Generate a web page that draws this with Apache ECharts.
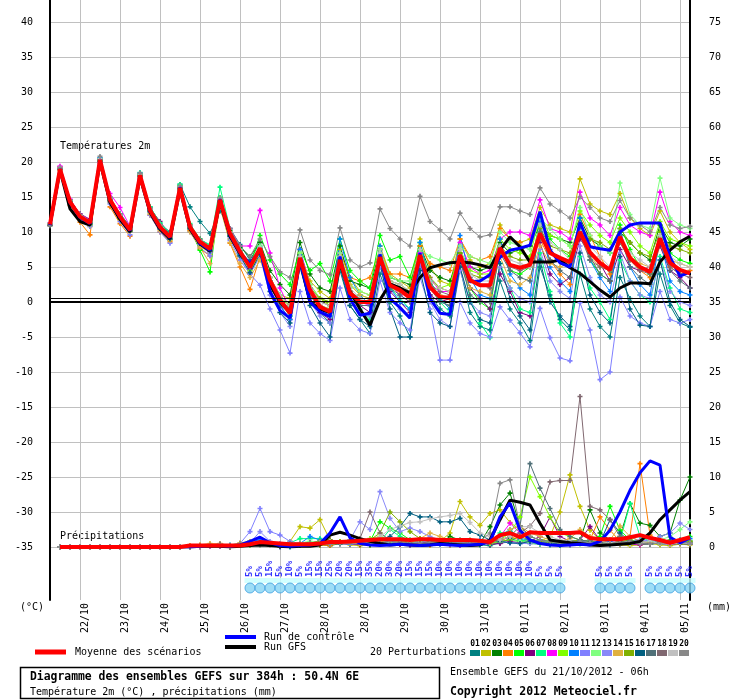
<!DOCTYPE html>
<html>
<head>
<meta charset="utf-8">
<title>Diagramme des ensembles GEFS</title>
<script src="https://cdn.jsdelivr.net/npm/echarts@6.0.0/dist/echarts.min.js"></script>
<style>
  html, body { margin: 0; padding: 0; background: #fff; }
  #main { width: 740px; height: 700px; }
</style>
</head>
<body>
<div id="main"></div>
<script>
const FONT = '"DejaVu Sans Mono", "Liberation Mono", monospace'

// one label per day, 00h local time (28/10 twice: end of summer time)
const dayLabels = ['22/10', '23/10', '24/10', '25/10', '26/10', '27/10', '28/10', '28/10',
  '29/10', '30/10', '31/10', '01/11', '02/11', '03/11', '04/11', '05/11']

const memberColors = ['#008080', '#c0c000', '#008000', '#ff8000', '#00ff00', '#800080', '#00ff80',
  '#ff00ff', '#80ff00', '#0080ff', '#8080ff', '#80ff80', '#8888f8', '#e0b040', '#80b000',
  '#005f80', '#507078', '#806870', '#c0c0c0', '#888888']

// temperature 2m (°C), one value every 6h from 21/10 06h
const tMean = [11.1, 19.0, 14.3, 12.2, 11.3, 20.3, 14.6, 12.2, 10.3, 18.1, 13.1, 10.7, 9.3, 16.3, 10.7, 8.6,
  7.6, 14.6, 9.8, 7.2, 5.0, 7.7, 3.1, 0.3, -1.6, 6.3, 1.7, -0.7, -1.4, 6.0, 1.3, 0.0,
  0.0, 6.4, 2.4, 1.7, 0.6, 6.7, 2.1, 0.7, 0.6, 6.7, 3.1, 2.4, 2.4, 7.7, 5.3, 4.9,
  5.3, 9.8, 7.0, 6.3, 5.7, 10.0, 7.1, 5.6, 4.6, 9.3, 6.3, 5.0, 4.3, 9.1, 5.6, 4.6, 4.1]
const tControl = [11.0, 19.0, 14.2, 12.1, 11.2, 20.3, 14.5, 12.1, 10.2, 18.1, 13.0, 10.6, 9.2, 16.4, 10.6, 8.4,
  7.4, 14.7, 9.6, 7.0, 5.5, 7.5, 1.5, -1.2, -2.3, 6.0, 0.0, -1.4, -2.1, 6.5, 0.5, -1.9,
  -1.6, 6.8, 0.5, -0.8, -2.3, 7.0, 0.5, -1.6, -1.8, 6.5, 2.9, 3.0, 3.9, 6.4, 7.4, 7.7,
  8.1, 12.9, 7.4, 5.6, 5.0, 11.4, 7.9, 7.6, 7.4, 10.0, 11.0, 11.3, 11.3, 11.3, 6.4, 3.7, 4.3]
const tGfs = [11.0, 18.8, 13.3, 11.5, 11.0, 20.0, 14.2, 11.8, 10.0, 17.8, 12.8, 10.4, 9.0, 16.0, 10.4, 8.3,
  7.3, 14.3, 9.4, 6.9, 5.2, 7.5, 2.5, 0.0, -1.5, 6.0, 0.0, -1.0, -1.5, 5.5, 1.5, -1.0,
  -3.3, 0.3, 2.6, 2.0, 1.3, 3.5, 4.9, 5.3, 5.6, 5.7, 5.6, 5.3, 4.9, 7.4, 9.3, 7.9,
  5.7, 5.7, 5.7, 6.0, 4.9, 4.1, 2.9, 1.7, 0.7, 2.0, 2.7, 2.7, 2.6, 5.7, 7.4, 8.6, 9.4]

const t01 = [11.0, 19.2, 14.6, 12.5, 11.6, 20.5, 14.8, 12.6, 10.8, 18.3, 13.6, 11.2, 10.0, 16.8, 13.6, 11.5,
  9.8, 13.0, 10.5, 8.2, 6.0, 8.5, 3.5, 0.5, -2.0, 5.5, 0.5, -1.5, -3.0, 4.5, -0.5, -2.5,
  -4.5, 4.0, 0.0, -2.0, -5.0, 5.5, 1.0, -1.0, -2.0, 5.0, -1.5, -3.5, -4.0, 3.0, -1.0, -3.0,
  -5.5, 5.0, 1.0, -2.5, -4.0, 4.0, -1.0, -3.5, -5.0, 3.5, 0.5, -2.0, -3.5, 4.0, -0.5, -3.0, -3.6]
const t02 = [11.2, 18.8, 14.0, 12.0, 10.8, 20.0, 14.2, 11.8, 10.0, 17.8, 12.8, 10.4, 9.0, 16.0, 10.2, 8.0,
  7.0, 14.0, 9.0, 6.5, 4.2, 7.0, 3.0, 1.0, 0.5, 7.0, 3.0, 1.5, 0.5, 7.5, 3.5, 1.5,
  1.0, 8.0, 4.0, 3.0, 2.0, 9.0, 5.0, 3.0, 2.5, 9.0, 6.0, 5.0, 5.5, 11.0, 9.0, 8.5,
  9.0, 13.5, 11.0, 10.5, 10.0, 17.6, 14.0, 13.0, 12.5, 15.5, 12.0, 10.5, 9.5, 13.0, 10.0, 8.5, 7.5]
const t03 = [11.0, 19.1, 14.4, 12.4, 11.5, 20.4, 14.7, 12.4, 10.6, 18.3, 13.3, 11.0, 9.7, 16.5, 11.0, 9.0,
  8.0, 14.8, 10.2, 7.8, 6.5, 8.5, 4.5, 2.5, 1.0, 8.5, 4.0, 2.0, 1.5, 8.0, 3.0, 2.5,
  2.0, 7.5, 3.5, 3.0, 2.5, 8.0, 4.5, 3.5, 3.0, 7.0, 5.0, 4.5, 5.0, 8.5, 7.0, 7.5,
  8.0, 11.0, 9.5, 9.0, 8.5, 12.0, 9.0, 8.0, 7.0, 10.0, 8.5, 7.0, 6.0, 11.0, 8.5, 8.0, 9.0]
const t04 = [10.9, 18.8, 13.8, 11.4, 9.6, 19.8, 13.6, 11.2, 9.4, 17.6, 12.4, 10.0, 8.6, 15.8, 10.2, 7.6,
  6.6, 13.8, 8.4, 5.0, 1.8, 6.5, 2.0, 0.0, -1.5, 6.0, 1.5, 0.5, -0.5, 7.0, 3.5, 3.0,
  3.5, 7.5, 4.0, 4.0, 3.5, 8.0, 5.5, 5.0, 4.5, 9.0, 6.5, 6.0, 6.5, 10.5, 9.0, 8.5,
  5.5, 9.0, 6.0, 4.0, 2.5, 12.5, 9.5, 6.5, 4.0, 8.5, 6.0, 4.5, 3.5, 8.0, 5.0, 4.0, 4.5]
const t05 = [11.1, 19.0, 14.2, 12.0, 11.0, 20.2, 14.4, 12.0, 10.1, 18.0, 12.9, 10.5, 8.9, 16.6, 10.4, 7.4,
  4.3, 14.9, 9.4, 6.8, 5.2, 9.5, 6.0, 4.0, 2.5, 7.5, 4.5, 5.5, 3.0, 9.0, 4.5, 3.0,
  2.0, 9.5, 6.0, 6.5, 3.5, 8.5, 3.0, 0.5, -1.0, 6.5, 2.0, 0.0, -1.0, 8.0, 4.5, 4.0,
  5.0, 11.5, 9.0, 7.5, 6.5, 10.5, 6.0, 4.0, 3.0, 11.0, 7.5, 5.0, 4.0, 10.0, 7.0, 6.0, 5.5]
const t06 = [11.0, 19.3, 14.6, 12.6, 11.8, 20.1, 14.4, 12.3, 10.5, 17.9, 13.4, 11.5, 9.6, 16.0, 10.5, 8.4,
  7.2, 14.3, 9.6, 7.0, 4.8, 7.2, 2.5, -0.5, -2.5, 5.8, 0.5, -1.5, -2.5, 5.5, 1.0, -0.5,
  -1.5, 5.5, 1.5, 0.0, -1.5, 5.5, 1.0, 0.0, 0.5, 6.0, 2.0, 0.5, -1.0, 4.0, 1.5, -1.5,
  -2.0, 8.5, 4.0, 2.5, 3.5, 9.0, 7.0, 5.5, 3.0, 7.5, 5.0, 4.5, 5.0, 8.0, 4.5, 3.5, 2.0]
const t07 = [11.2, 19.0, 14.5, 12.3, 11.4, 20.6, 14.9, 12.6, 10.8, 18.5, 13.6, 11.3, 9.8, 16.8, 11.2, 8.9,
  8.2, 16.4, 10.5, 7.5, 5.5, 8.0, 3.0, 0.0, -2.0, 6.5, 1.5, -0.5, -1.0, 7.0, 2.0, -1.0,
  -2.5, 7.5, 2.0, 0.5, -1.0, 7.5, 2.5, 0.0, -1.5, 7.5, 0.5, -3.0, -5.1, 5.5, 2.0, -1.0,
  -1.5, 7.0, 1.5, -3.0, -5.0, 6.5, 2.0, 0.0, -2.5, 6.0, 3.0, 1.0, 0.0, 6.5, 2.0, -1.0, -1.5]
const t08 = [11.3, 19.4, 14.7, 12.5, 11.7, 20.0, 15.5, 13.5, 10.8, 18.0, 13.2, 10.9, 9.4, 16.4, 10.9, 8.8,
  7.6, 14.7, 10.5, 8.0, 8.0, 13.1, 7.0, 2.0, -1.0, 7.5, 2.5, -0.5, -1.5, 7.0, 1.5, 0.0,
  -0.5, 7.5, 2.5, 1.0, 0.0, 7.0, 3.5, 1.5, 1.5, 8.5, 5.0, 4.0, 4.5, 9.0, 10.0, 10.0,
  9.5, 14.6, 10.5, 10.0, 9.0, 15.7, 12.0, 11.0, 9.5, 13.5, 11.0, 10.0, 9.5, 15.7, 11.5, 10.0, 9.5]
const t09 = [11.0, 19.0, 14.4, 12.1, 11.2, 20.3, 14.5, 12.0, 10.2, 18.2, 13.0, 10.6, 9.2, 16.3, 10.6, 8.5,
  7.5, 14.4, 9.5, 7.0, 4.5, 7.0, 2.5, 0.5, -0.5, 6.5, 2.5, 0.5, -0.5, 6.5, 2.5, 1.0,
  0.5, 6.0, 2.0, 1.5, 0.5, 6.5, 3.0, 2.0, 2.5, 7.5, 4.5, 4.0, 4.0, 9.0, 7.5, 7.0,
  6.5, 12.5, 9.5, 9.0, 8.0, 13.0, 11.0, 9.5, 8.5, 12.0, 10.0, 8.0, 7.0, 11.5, 9.0, 8.5, 8.0]
const t10 = [11.1, 19.1, 14.3, 12.2, 11.3, 20.6, 14.8, 12.3, 10.4, 18.4, 13.0, 10.5, 9.0, 16.2, 10.6, 8.3,
  7.4, 14.5, 9.6, 6.8, 5.0, 7.8, 3.0, -0.5, -2.5, 7.5, 2.0, -1.0, -2.0, 9.0, 3.5, 1.0,
  -0.5, 8.0, 2.0, 0.0, -1.0, 8.5, 3.0, 0.5, -1.0, 9.5, 3.5, 1.0, 0.5, 9.0, 4.0, 2.0,
  1.0, 11.5, 5.0, 3.0, 1.5, 12.0, 6.0, 3.5, 1.5, 10.5, 5.0, 2.5, 1.0, 9.0, 3.0, 1.5, 1.0]
const t11 = [11.0, 18.9, 14.0, 11.8, 10.8, 19.8, 14.0, 11.5, 9.6, 17.6, 12.4, 10.0, 8.4, 15.6, 10.0, 7.8,
  6.6, 13.6, 8.8, 6.0, 4.0, 2.4, -1.0, -4.0, -7.3, 1.5, -3.0, -4.5, -5.5, 2.0, -2.5, -4.0,
  -4.5, 3.0, -1.5, -3.0, -4.0, 3.5, -1.0, -8.3, -8.3, 0.0, -3.0, -4.5, -5.0, -0.7, -2.6, -4.4,
  -6.4, -0.9, -5.1, -8.0, -8.4, -0.1, -4.0, -11.1, -10.0, 0.7, -2.0, -3.0, -3.5, 1.5, -2.5, -3.0, -2.5]
const t12 = [11.2, 19.1, 14.5, 12.4, 11.6, 20.4, 14.7, 12.5, 10.6, 18.2, 13.3, 10.9, 9.5, 16.5, 10.9, 8.8,
  7.8, 14.8, 10.0, 7.5, 5.5, 8.0, 3.5, 1.0, -0.5, 7.0, 2.5, 0.5, 0.0, 7.0, 2.5, 1.5,
  1.0, 7.5, 3.5, 3.0, 3.0, 7.5, 6.5, 6.0, 5.5, 8.0, 6.5, 6.0, 5.5, 10.0, 8.5, 8.0,
  7.5, 12.0, 10.5, 9.0, 8.0, 13.5, 9.5, 8.0, 7.0, 17.0, 12.5, 11.0, 10.5, 17.7, 12.0, 11.0, 10.5]
const t13 = [11.0, 19.0, 14.1, 12.0, 11.0, 20.0, 14.3, 12.0, 10.0, 17.9, 12.8, 10.4, 9.0, 16.1, 10.4, 8.2,
  7.0, 14.2, 9.2, 6.5, 4.0, 6.5, 1.0, -1.5, -3.5, 5.0, 0.0, -2.0, -3.0, 5.0, 0.0, -1.5,
  -2.0, 5.0, 0.5, -1.0, -2.0, 5.5, 0.0, -2.5, -3.5, 4.5, 0.0, -1.5, -2.0, 5.0, 2.0, 0.5,
  0.0, 7.5, 3.0, 1.5, 0.5, 8.0, 3.5, 1.0, 0.0, 7.0, 3.0, 1.0, 0.5, 6.0, 1.5, 0.0, -0.5]
const t14 = [11.1, 19.2, 14.4, 12.3, 11.4, 20.2, 14.4, 12.0, 10.1, 18.0, 12.6, 10.2, 8.8, 16.0, 10.0, 7.8,
  5.5, 13.5, 8.5, 5.5, 3.5, 6.0, 2.5, 0.0, -1.0, 5.5, 1.5, -0.5, -1.0, 6.5, 2.5, 1.0,
  0.5, 6.5, 2.5, 1.5, 1.0, 6.0, 2.5, 1.0, 0.5, 5.5, 2.0, 1.5, 1.0, 6.5, 3.0, 2.5,
  3.5, 8.0, 5.5, 5.0, 5.5, 9.5, 6.5, 5.0, 4.5, 9.0, 6.5, 5.5, 5.0, 8.5, 6.0, 5.5, 5.0]
const t15 = [11.1, 19.0, 14.2, 12.1, 11.1, 20.2, 14.6, 12.1, 10.2, 18.1, 13.1, 10.7, 9.2, 16.2, 10.5, 8.4,
  7.4, 14.3, 9.7, 7.1, 5.3, 7.5, 3.5, 1.0, -0.5, 6.0, 2.0, 0.5, 0.0, 6.0, 1.5, 0.5,
  0.5, 6.5, 3.0, 2.5, 1.5, 7.5, 3.5, 2.0, 1.5, 7.0, 4.0, 3.5, 3.5, 8.0, 6.5, 6.0,
  6.0, 10.5, 8.0, 7.5, 7.0, 11.0, 9.0, 8.5, 7.5, 10.5, 8.5, 7.0, 6.5, 10.0, 8.0, 7.5, 7.0]
const t16 = [10.9, 19.0, 14.3, 12.0, 11.2, 20.1, 14.5, 12.0, 10.2, 18.0, 13.0, 10.5, 9.0, 16.2, 10.6, 8.4,
  7.3, 14.3, 9.4, 6.6, 4.2, 6.8, 1.5, -1.5, -3.0, 5.0, -0.5, -3.0, -5.0, 5.0, -0.5, -2.5,
  -3.5, 5.5, -1.0, -5.0, -5.0, 4.5, -1.5, -3.0, -3.5, 5.0, 0.0, -2.5, -3.0, 5.5, 0.5, -2.0,
  -4.0, 6.0, 0.0, -2.0, -3.5, 7.0, 1.0, -1.5, -3.0, 6.5, -1.0, -3.3, -3.5, 6.0, 0.0, -2.5, -3.5]
const t17 = [11.1, 19.1, 14.4, 12.3, 11.4, 20.3, 14.6, 12.2, 10.4, 18.2, 13.2, 10.8, 9.4, 16.4, 10.8, 8.7,
  7.7, 14.6, 9.8, 7.3, 5.0, 7.5, 2.5, -0.5, -1.5, 6.0, 1.0, -1.0, -1.5, 6.0, 1.0, -0.5,
  -0.5, 6.5, 2.0, 1.0, 0.0, 6.5, 2.0, 0.0, -0.5, 6.0, 1.0, 0.0, 0.0, 7.0, 4.5, 3.5,
  3.0, 10.0, 6.0, 4.5, 3.5, 10.5, 6.5, 4.0, 3.0, 9.5, 5.0, 3.5, 2.5, 9.0, 4.5, 3.0, 2.0]
const t18 = [11.0, 19.0, 14.2, 12.2, 11.3, 20.4, 14.7, 12.3, 10.3, 18.0, 13.0, 10.6, 9.3, 16.3, 10.7, 8.5,
  7.5, 14.5, 9.7, 7.1, 5.0, 7.5, 3.0, 0.5, -1.0, 6.5, 2.0, 0.0, -0.5, 6.0, 1.5, 0.5,
  0.5, 6.0, 2.5, 2.0, 1.0, 6.5, 2.5, 1.5, 1.0, 6.5, 3.5, 2.5, 2.0, 7.5, 5.0, 4.5,
  5.0, 9.0, 7.5, 6.0, 5.5, 9.5, 6.0, 5.0, 4.5, 8.5, 6.0, 4.5, 4.0, 8.5, 5.0, 4.0, 3.5]
const t19 = [11.2, 19.2, 14.5, 12.4, 11.5, 20.5, 14.8, 12.4, 10.5, 18.3, 13.3, 11.0, 9.5, 16.5, 10.9, 8.8,
  7.8, 14.7, 10.0, 7.5, 5.3, 7.8, 3.5, 1.0, -0.5, 6.5, 2.0, 0.0, -0.5, 6.5, 2.0, 0.5,
  0.5, 7.0, 3.0, 2.5, 1.5, 7.5, 3.0, 2.0, 1.5, 7.5, 4.0, 3.0, 3.0, 8.0, 6.0, 5.5,
  5.0, 11.0, 8.5, 7.5, 6.0, 10.0, 8.0, 6.5, 5.0, 9.0, 7.0, 6.0, 5.0, 9.5, 6.5, 5.5, 5.0]
const t20 = [11.1, 19.2, 14.6, 12.5, 11.6, 20.8, 15.0, 12.6, 10.6, 18.4, 13.4, 11.0, 9.6, 16.6, 11.0, 8.9,
  8.0, 14.9, 10.5, 8.0, 6.5, 9.0, 6.5, 4.3, 3.5, 10.3, 6.0, 4.5, 3.9, 10.6, 6.0, 5.0,
  5.6, 13.3, 10.5, 9.0, 8.0, 15.1, 11.5, 10.3, 9.0, 12.7, 10.5, 9.3, 9.6, 13.6, 13.6, 13.0,
  12.5, 16.3, 14.0, 13.0, 12.0, 15.0, 13.5, 12.0, 11.5, 14.5, 12.0, 11.0, 10.0, 13.5, 11.0, 10.5, 10.8]

// precipitation (mm per 6h), nothing for the first time step
const pMean = [null, 0, 0, 0, 0, 0, 0, 0, 0, 0, 0, 0, 0, 0, 0.2, 0.2,
  0.2, 0.2, 0.2, 0.2, 0.4, 0.7, 0.6, 0.5, 0.4, 0.4, 0.4, 0.5, 0.7, 0.7, 0.8, 0.9,
  1.0, 1.1, 1.1, 1.1, 1.0, 1.1, 1.1, 1.0, 1.0, 1.0, 1.0, 0.9, 0.7, 1.7, 2.0, 1.4,
  2.1, 2.0, 2.0, 2.0, 2.0, 2.1, 1.3, 1.1, 1.1, 1.1, 1.4, 1.7, 1.3, 1.0, 0.6, 1.0, 1.4]
const pControl = [null, 0, 0, 0, 0, 0, 0, 0, 0, 0, 0, 0, 0, 0, 0, 0.1,
  0.2, 0.2, 0.1, 0.3, 0.8, 1.4, 0.6, 0.2, 0.1, 0.2, 0.3, 0.5, 2.0, 4.3, 1.3, 0.5,
  0.3, 0.2, 0.3, 0.4, 0.3, 0.2, 0.3, 0.4, 0.3, 0.2, 0.3, 0.4, 0.7, 4.3, 6.3, 2.4,
  1.0, 0.5, 0.3, 0.2, 0.3, 0.4, 0.3, 0.8, 2.4, 5.0, 8.1, 10.6, 12.3, 11.7, 1.4, 0.6, 1.3]
const pGfs = [null, 0, 0, 0, 0, 0, 0, 0, 0, 0, 0, 0, 0, 0, 0, 0.1,
  0.1, 0.1, 0, 0.1, 0.2, 0.3, 0.2, 0.1, 0, 0.1, 0.1, 0.3, 1.7, 2.1, 1.7, 1.2,
  0.8, 0.5, 0.3, 0.4, 0.3, 0.2, 0.3, 0.5, 0.4, 0.3, 0.2, 0.3, 1.0, 3.9, 6.7, 6.4,
  6.0, 3.4, 1.0, 0.8, 0.6, 0.5, 0.3, 0.2, 0.3, 0.4, 0.5, 0.8, 2.0, 3.9, 5.3, 6.7, 7.9]

const p01 = [null, 0, 0, 0, 0, 0, 0, 0, 0, 0, 0, 0, 0, 0, 0, 0.2,
  0.3, 0.2, 0, 0.3, 0.5, 0.8, 0.3, 0, 0, 0.2, 0.4, 0.3, 0.5, 0.6, 0.4, 0.3,
  0.5, 0.8, 0.6, 0.4, 0.3, 0.5, 0.4, 0.6, 0.3, 0.2, 0.5, 0.3, 0.2, 0.6, 1.2, 0.8,
  0.5, 0.4, 0.3, 0.2, 0.3, 0.5, 0.8, 0.6, 0.3, 0.4, 0.5, 0.8, 0.6, 0.4, 0.3, 0.5, 0.8]
const p02 = [null, 0, 0, 0, 0, 0, 0, 0, 0, 0, 0, 0, 0, 0, 0.1, 0.2,
  0.2, 0.3, 0, 0.2, 0.3, 0.5, 0.3, 0.2, 0.8, 2.9, 2.7, 3.9, 1.0, 0.5, 0.3, 0.2,
  0.3, 0.5, 0.6, 0.8, 0.5, 0.4, 0.3, 0.8, 2.0, 6.5, 4.3, 3.1, 4.8, 5.3, 3.5, 2.5,
  1.0, 0.8, 1.5, 5.0, 10.3, 5.8, 2.4, 1.0, 0.5, 0.3, 0.2, 0.3, 0.5, 0.3, 0.2, 0.4, 0.3]
const p03 = [null, 0, 0, 0, 0, 0, 0, 0, 0, 0, 0, 0, 0, 0, 0, 0.1,
  0.2, 0.2, 0.1, 0.3, 0.5, 0.3, 0.2, 0.1, 0.3, 0.5, 0.4, 0.3, 0.2, 0.5, 0.8, 0.5,
  0.3, 0.6, 0.8, 1.0, 0.6, 0.5, 0.8, 0.5, 1.5, 1.0, 0.8, 0.5, 2.9, 6.0, 7.7, 3.0,
  1.5, 1.0, 0.8, 0.5, 0.8, 1.0, 5.3, 2.0, 1.0, 1.5, 6.2, 3.4, 3.1, 1.5, 2.0, 6.7, 10.0]
const p04 = [null, 0, 0, 0, 0, 0, 0, 0, 0, 0, 0, 0, 0, 0, 0.2, 0.3,
  0.3, 0.5, 0.2, 0.5, 0.8, 0.6, 0.3, 0.2, 0.2, 0.4, 0.5, 0.3, 0.2, 0.6, 0.5, 0.8,
  1.0, 0.8, 0.5, 0.4, 0.6, 0.5, 0.3, 0.4, 0.3, 0.5, 0.8, 0.6, 0.4, 0.8, 1.5, 1.0,
  0.8, 0.6, 0.5, 0.4, 0.6, 0.8, 1.0, 4.3, 2.4, 0.8, 1.5, 11.9, 1.7, 0.8, 0.5, 0.6, 0.8]
const p05 = [null, 0, 0, 0, 0, 0, 0, 0, 0, 0, 0, 0, 0, 0, 0, 0,
  0.1, 0.2, 0.1, 0.2, 0.3, 0.5, 0.4, 0.3, 0.2, 0.5, 0.6, 0.8, 0.5, 0.8, 1.0, 0.6,
  0.8, 3.6, 2.7, 2.0, 1.0, 0.8, 1.2, 0.8, 0.6, 0.5, 0.8, 0.6, 0.5, 0.7, 1.0, 0.8,
  0.6, 0.5, 0.8, 0.6, 0.5, 0.8, 1.0, 1.5, 5.8, 2.4, 1.0, 0.8, 0.6, 0.5, 0.8, 1.0, 1.5]
const p06 = [null, 0, 0, 0, 0, 0, 0, 0, 0, 0, 0, 0, 0, 0, 0, 0.1,
  0.2, 0.1, 0, 0.2, 0.4, 0.3, 0.2, 0.1, 0.2, 0.3, 0.5, 0.8, 1.0, 0.6, 0.5, 0.4,
  0.5, 0.6, 0.5, 0.4, 0.3, 0.8, 1.2, 0.6, 0.4, 0.3, 0.5, 0.6, 0.4, 0.5, 0.8, 0.6,
  0.8, 1.5, 4.3, 1.5, 0.8, 1.0, 2.9, 1.0, 0.6, 0.5, 0.4, 0.3, 0.5, 0.6, 0.4, 0.5, 0.6]
const p07 = [null, 0, 0, 0, 0, 0, 0, 0, 0, 0, 0, 0, 0, 0, 0, 0.1,
  0.2, 0.2, 0.3, 0.5, 0.4, 0.5, 0.3, 0.4, 0.6, 1.2, 1.2, 1.2, 0.6, 0.5, 0.8, 0.6,
  0.5, 0.8, 2.5, 1.5, 1.0, 0.8, 0.6, 0.5, 0.8, 0.6, 0.5, 0.4, 0.6, 2.0, 2.2, 1.0,
  0.8, 0.6, 0.5, 0.4, 0.6, 0.5, 0.8, 0.6, 0.5, 0.8, 6.2, 1.5, 0.8, 0.5, 0.4, 0.6, 0.8]
const p08 = [null, 0, 0, 0, 0, 0, 0, 0, 0, 0, 0, 0, 0, 0, 0, 0,
  0.1, 0.2, 0.1, 0.3, 0.5, 0.8, 0.4, 0.2, 0.3, 0.4, 0.5, 0.6, 0.8, 0.5, 0.4, 0.5,
  0.6, 0.8, 0.6, 0.5, 0.4, 0.6, 0.8, 0.5, 0.4, 0.3, 0.5, 0.6, 0.8, 1.5, 3.4, 2.0,
  1.0, 0.8, 0.6, 0.5, 0.4, 0.6, 0.5, 0.4, 0.6, 0.8, 0.5, 0.4, 0.6, 0.5, 0.4, 0.6, 0.5]
const p09 = [null, 0, 0, 0, 0, 0, 0, 0, 0, 0, 0, 0, 0, 0, 0, 0.1,
  0.2, 0.3, 0.2, 0.4, 0.6, 0.5, 0.3, 0.2, 0.4, 0.5, 0.6, 0.8, 0.6, 0.5, 0.8, 1.0,
  1.2, 1.5, 1.0, 0.8, 0.6, 0.5, 0.8, 1.0, 0.6, 0.5, 0.4, 0.6, 0.8, 1.0, 2.0, 4.3,
  10.0, 7.2, 4.3, 2.0, 1.5, 1.0, 0.8, 0.6, 0.5, 0.8, 0.6, 0.5, 0.4, 0.6, 0.8, 0.5, 0.6]
const p10 = [null, 0, 0, 0, 0, 0, 0, 0, 0, 0, 0, 0, 0, 0, 0, 0.2,
  0.3, 0.4, 0.2, 0.3, 0.8, 1.0, 0.5, 0.3, 0.2, 0.5, 1.5, 1.0, 0.8, 0.5, 0.4, 0.6,
  0.5, 0.8, 0.6, 0.5, 0.6, 0.8, 0.5, 0.4, 0.6, 0.5, 0.8, 1.0, 0.8, 1.5, 2.5, 1.2,
  1.0, 0.8, 0.6, 0.5, 0.8, 1.0, 0.6, 0.5, 0.8, 1.0, 1.5, 0.8, 0.6, 0.5, 0.8, 1.0, 1.2]
const p11 = [null, 0, 0, 0, 0, 0, 0, 0, 0, 0, 0, 0, 0, 0, 0, 0.2,
  0.3, 0.4, 0.3, 0.5, 2.2, 5.5, 2.2, 1.7, 0.8, 0.5, 0.4, 0.6, 0.8, 0.5, 0.6, 0.8,
  0.6, 0.5, 0.8, 0.6, 0.5, 0.8, 0.6, 0.5, 0.4, 0.6, 0.5, 0.8, 1.0, 0.8, 0.6, 0.5,
  0.8, 0.6, 0.5, 0.4, 0.6, 0.8, 1.0, 0.6, 0.5, 0.4, 0.6, 0.8, 1.0, 0.6, 0.5, 0.8, 0.6]
const p12 = [null, 0, 0, 0, 0, 0, 0, 0, 0, 0, 0, 0, 0, 0, 0, 0.1,
  0.2, 0.2, 0.1, 0.3, 0.4, 0.3, 0.2, 0.3, 0.5, 0.6, 0.8, 0.5, 0.4, 0.6, 0.8, 0.6,
  0.5, 0.8, 0.6, 0.5, 0.6, 0.8, 1.2, 0.8, 0.6, 0.5, 0.8, 0.6, 0.5, 0.8, 1.0, 0.8,
  0.6, 0.5, 0.8, 0.6, 0.5, 0.4, 0.6, 0.8, 0.6, 0.5, 0.4, 0.6, 0.8, 1.0, 1.5, 2.5, 3.6]
const p13 = [null, 0, 0, 0, 0, 0, 0, 0, 0, 0, 0, 0, 0, 0, 0, 0.1,
  0.2, 0.3, 0.2, 0.4, 0.6, 2.2, 0.8, 0.5, 0.4, 0.5, 0.6, 0.8, 0.6, 0.8, 1.0, 3.6,
  2.5, 7.9, 4.1, 2.2, 2.7, 2.2, 1.5, 1.0, 0.8, 0.6, 0.5, 0.8, 1.0, 0.8, 0.6, 0.5,
  0.5, 0.8, 0.6, 0.5, 0.8, 1.0, 0.6, 0.5, 0.4, 0.6, 0.8, 1.0, 0.6, 1.5, 2.0, 3.4, 2.5]
const p14 = [null, 0, 0, 0, 0, 0, 0, 0, 0, 0, 0, 0, 0, 0, 0.2, 0.3,
  0.5, 0.4, 0.2, 0.6, 0.8, 0.5, 0.3, 0.2, 0.3, 0.5, 0.4, 0.6, 0.5, 0.8, 0.6, 0.5,
  0.6, 0.8, 1.0, 0.8, 0.6, 1.2, 2.0, 1.5, 1.0, 0.8, 0.6, 0.5, 0.8, 1.0, 2.5, 3.0,
  2.0, 1.5, 1.0, 0.8, 1.2, 2.5, 1.5, 0.8, 1.0, 3.0, 1.5, 0.8, 0.6, 0.5, 0.8, 0.6, 0.5]
const p15 = [null, 0, 0, 0, 0, 0, 0, 0, 0, 0, 0, 0, 0, 0, 0, 0.1,
  0.2, 0.2, 0.1, 0.3, 0.4, 0.5, 0.3, 0.2, 0.3, 0.4, 0.6, 0.8, 1.0, 0.8, 0.6, 0.8,
  1.0, 2.0, 5.0, 3.6, 2.2, 1.2, 0.8, 0.6, 0.5, 0.8, 1.0, 0.8, 0.6, 0.8, 1.0, 1.5,
  1.0, 0.8, 0.6, 0.5, 0.8, 1.0, 0.8, 0.6, 0.5, 0.8, 1.0, 0.6, 0.5, 0.8, 1.0, 0.6, 0.8]
const p16 = [null, 0, 0, 0, 0, 0, 0, 0, 0, 0, 0, 0, 0, 0, 0, 0.1,
  0.2, 0.3, 0.2, 0.4, 0.5, 0.6, 0.4, 0.3, 0.5, 0.4, 0.6, 0.5, 0.8, 0.6, 0.8, 1.0,
  0.8, 1.0, 1.5, 2.9, 4.8, 4.3, 4.3, 3.6, 3.6, 4.1, 2.2, 1.7, 1.0, 0.8, 0.6, 0.5,
  0.8, 0.6, 0.5, 0.4, 0.6, 0.8, 0.5, 0.6, 3.9, 2.0, 0.8, 0.5, 0.4, 0.6, 0.8, 0.5, 0.4]
const p17 = [null, 0, 0, 0, 0, 0, 0, 0, 0, 0, 0, 0, 0, 0, 0, 0.1,
  0.2, 0.2, 0.1, 0.3, 0.5, 0.4, 0.3, 0.2, 0.4, 0.3, 0.5, 0.6, 0.5, 0.4, 0.6, 0.8,
  0.6, 0.5, 0.8, 0.6, 0.5, 0.4, 0.6, 0.8, 0.6, 0.5, 0.4, 0.6, 0.8, 1.0, 1.5, 3.0,
  11.9, 8.4, 5.5, 2.5, 1.5, 1.0, 0.8, 0.6, 0.5, 0.8, 0.6, 0.5, 0.4, 0.6, 0.5, 0.8, 0.6]
const p18 = [null, 0, 0, 0, 0, 0, 0, 0, 0, 0, 0, 0, 0, 0, 0, 0.1,
  0.2, 0.3, 0.2, 0.4, 0.3, 0.5, 0.4, 0.3, 0.5, 0.4, 0.6, 0.5, 0.4, 0.6, 0.8, 1.2,
  5.0, 2.0, 1.0, 0.8, 0.6, 0.5, 0.8, 0.6, 0.5, 0.8, 0.6, 0.5, 0.8, 1.0, 1.5, 2.0,
  3.0, 4.8, 9.3, 9.5, 9.5, 21.5, 5.8, 5.3, 3.9, 1.5, 0.8, 0.6, 0.5, 0.8, 0.6, 0.5, 0.4]
const p19 = [null, 0, 0, 0, 0, 0, 0, 0, 0, 0, 0, 0, 0, 0, 0, 0.1,
  0.2, 0.2, 0.1, 0.3, 0.4, 0.3, 0.2, 0.3, 0.4, 0.5, 0.4, 0.6, 0.8, 0.6, 0.5, 0.8,
  1.0, 1.5, 2.5, 3.0, 3.5, 3.6, 4.0, 4.3, 4.5, 4.8, 3.5, 2.0, 1.5, 1.0, 1.5, 2.9,
  2.9, 2.0, 1.5, 1.0, 0.8, 0.6, 0.5, 0.8, 0.6, 0.5, 0.4, 0.6, 0.8, 0.5, 0.4, 0.6, 0.5]
const p20 = [null, 0, 0, 0, 0, 0, 0, 0, 0, 0, 0, 0, 0, 0, 0, 0.1,
  0.2, 0.3, 0.2, 0.4, 0.6, 0.5, 0.3, 0.2, 0.4, 0.5, 0.6, 0.5, 0.4, 0.6, 0.5, 0.8,
  0.6, 0.5, 0.8, 0.6, 0.5, 0.4, 0.6, 0.5, 0.8, 0.6, 0.5, 0.8, 2.0, 9.1, 9.6, 3.0,
  1.5, 1.0, 0.8, 0.6, 0.5, 0.8, 0.6, 0.5, 0.4, 0.6, 0.8, 0.5, 0.4, 0.6, 0.5, 0.8, 0.6]

// share of members forecasting snow (%)
const snowPct = [null, null, null, null, null, null, null, null, null, null, null, null, null, null, null, null,
  null, null, null, null, 5, 5, 15, 5, 10, 5, 15, 15, 25, 20, 20, 15,
  35, 20, 30, 20, 15, 15, 15, 10, 10, 10, 10, 10, 10, 10, 10, 10,
  10, 5, 5, 5, null, null, null, 5, 5, 5, 5, null, 5, 5, 5, 5, 5]

const tMembers = [t01, t02, t03, t04, t05, t06, t07, t08, t09, t10, t11, t12, t13, t14, t15, t16, t17, t18, t19, t20]
const pMembers = [p01, p02, p03, p04, p05, p06, p07, p08, p09, p10, p11, p12, p13, p14, p15, p16, p17, p18, p19, p20]

// time steps of the run, every 6h up to 384h
const steps = []
for (let h = 0; h <= 384; h += 6) {
  steps.push(h + 'h')
}

const isDayTick = (idx) => idx % 4 === 3
const PLUS = 'path://M2,0H4V2H6V4H4V6H2V4H0V2H2Z'
const GRID_COLOR = '#c0c0c0'

// frame axis spans the whole plot (0..600px at 7px per °C)
const FRAME_MIN = -35 - 53 / 7
const FRAME_MAX = 40 + 22 / 7
const PCT_Y = FRAME_MAX - 577 / 7
const BAND_Y = FRAME_MAX - 580.5 / 7
const FLAKE_Y = FRAME_MAX - 588 / 7

const thinLine = (name, data, color, yAxisIndex) => ({
  name,
  type: 'line',
  xAxisIndex: 1,
  yAxisIndex,
  data,
  symbol: PLUS,
  symbolSize: 5,
  showSymbol: true,
  lineStyle: { width: 1, color },
  itemStyle: { color },
  silent: true,
  z: 2
})

const thickLine = (name, data, color, width, yAxisIndex) => ({
  name,
  type: 'line',
  xAxisIndex: 1,
  yAxisIndex,
  data,
  symbol: 'none',
  lineStyle: { width, color },
  itemStyle: { color },
  silent: true,
  z: 3
})

const series = []
tMembers.forEach((d, k) => series.push(thinLine('T' + (k + 1), d, memberColors[k], 2)))
pMembers.forEach((d, k) => series.push(thinLine('P' + (k + 1), d, memberColors[k], 3)))

// 0 °C double line
series[0].markLine = {
  silent: true,
  symbol: 'none',
  label: { show: false },
  lineStyle: { color: '#000', width: 1, type: 'solid' },
  data: [{ yAxis: 0.15 }, { yAxis: 0.5 }]
}

series.push(thickLine('Run GFS', tGfs, '#000000', 3, 2))
series.push(thickLine('Run GFS P', pGfs, '#000000', 3, 3))
series.push(thickLine('Run de contrôle', tControl, '#0000ff', 3, 2))
series.push(thickLine('Run de contrôle P', pControl, '#0000ff', 3, 3))
series.push(thickLine('Moyenne des scénarios', tMean, '#ff0000', 4, 2))
series.push(thickLine('Moyenne P', pMean, '#ff0000', 4, 3))

const snowIdx = []
snowPct.forEach((v, i) => { if (v !== null) snowIdx.push(i) })

series.push({
  name: 'band',
  type: 'scatter',
  xAxisIndex: 0,
  yAxisIndex: 0,
  data: snowIdx.map(i => [i, BAND_Y]),
  symbol: 'rect',
  symbolSize: [11, 5],
  itemStyle: { color: '#c8ffff' },
  silent: true,
  z: 4
})
series.push({
  name: 'snow',
  type: 'scatter',
  xAxisIndex: 0,
  yAxisIndex: 0,
  data: snowIdx.map(i => [i, FLAKE_Y]),
  symbol: 'circle',
  symbolSize: 10,
  itemStyle: { color: '#86d4f4', borderColor: '#3c9fe0', borderWidth: 1 },
  silent: true,
  z: 5
})
series.push({
  name: 'pct',
  type: 'scatter',
  xAxisIndex: 0,
  yAxisIndex: 0,
  data: snowIdx.map(i => [i, PCT_Y, snowPct[i]]),
  symbolSize: 0,
  label: {
    show: true,
    position: 'inside',
    rotate: 90,
    align: 'left',
    verticalAlign: 'middle',
    formatter: p => p.value[2] + '%',
    color: '#0000ff',
    fontFamily: FONT,
    fontWeight: 'bold',
    fontSize: 9
  },
  silent: true,
  z: 5
})

const txt = (x, y, text, bold, size) => ({
  type: 'text',
  x,
  y,
  silent: true,
  style: {
    text,
    fill: '#000',
    font: (bold ? 'bold ' : '') + (size || 10) + 'px ' + FONT,
    verticalAlign: 'middle'
  }
})

const graphic = [
  txt(60, 146, 'Températures 2m'),
  txt(60, 536, 'Précipitations'),
  txt(20, 607, '(°C)'),
  txt(707, 607, '(mm)'),
  { type: 'line', silent: true, shape: { x1: 35, y1: 652, x2: 66, y2: 652 }, style: { stroke: '#ff0000', lineWidth: 5 } },
  txt(75, 652, 'Moyenne des scénarios'),
  { type: 'line', silent: true, shape: { x1: 225, y1: 637, x2: 256, y2: 637 }, style: { stroke: '#0000ff', lineWidth: 4 } },
  txt(264, 637, 'Run de contrôle'),
  { type: 'line', silent: true, shape: { x1: 225, y1: 647, x2: 256, y2: 647 }, style: { stroke: '#000000', lineWidth: 4 } },
  txt(264, 647, 'Run GFS'),
  txt(370, 652, '20 Perturbations'),
  { type: 'rect', silent: true, shape: { x: 20.5, y: 667.5, width: 419, height: 31 }, style: { fill: '#fff', stroke: '#000', lineWidth: 1.5 } },
  txt(30, 677, 'Diagramme des ensembles GEFS sur 384h : 50.4N 6E', true, 11.4),
  txt(30, 692, 'Température 2m (°C) , précipitations (mm)'),
  txt(450, 672, 'Ensemble GEFS du 21/10/2012 - 06h'),
  txt(450, 692, 'Copyright 2012 Meteociel.fr', true, 11.5)
]
memberColors.forEach((c, k) => {
  const x = 470 + 11 * k
  graphic.push({ type: 'rect', silent: true, shape: { x, y: 650, width: 10, height: 6 }, style: { fill: c } })
  graphic.push({
    type: 'text',
    x: x + 5,
    y: 644,
    silent: true,
    style: { text: String(k + 1).padStart(2, '0'), fill: '#000', font: 'bold 8px ' + FONT, align: 'center', verticalAlign: 'middle' }
  })
})

const chart = echarts.init(document.getElementById('main'), null, { renderer: 'canvas' })
chart.setOption({
  backgroundColor: '#ffffff',
  animation: false,
  grid: [
    { left: 50, top: 0, width: 640, height: 600 },
    { left: 50, top: 22, width: 640, height: 525 }
  ],
  xAxis: [
    {
      type: 'category',
      gridIndex: 0,
      data: steps,
      boundaryGap: false,
      axisLine: { lineStyle: { color: '#000', width: 2 } },
      axisTick: { show: false },
      axisLabel: {
        interval: isDayTick,
        rotate: 90,
        margin: 3,
        verticalAlign: 'top',
        align: 'right',
        color: '#000',
        fontFamily: FONT,
        fontSize: 10,
        formatter: (v, idx) => dayLabels[(idx - 3) / 4]
      },
      splitLine: { show: true, interval: isDayTick, lineStyle: { color: GRID_COLOR, width: 1 } }
    },
    {
      type: 'category',
      gridIndex: 1,
      data: steps,
      boundaryGap: false,
      show: false
    }
  ],
  yAxis: [
    {
      type: 'value',
      gridIndex: 0,
      min: FRAME_MIN,
      max: FRAME_MAX,
      position: 'left',
      axisLine: { show: true, lineStyle: { color: '#000', width: 2 } },
      axisTick: { show: false },
      axisLabel: { show: false },
      splitLine: { show: false }
    },
    {
      type: 'value',
      gridIndex: 0,
      min: FRAME_MIN,
      max: FRAME_MAX,
      position: 'right',
      axisLine: { show: true, lineStyle: { color: '#000', width: 2 } },
      axisTick: { show: false },
      axisLabel: { show: false },
      splitLine: { show: false }
    },
    {
      type: 'value',
      gridIndex: 1,
      min: -35,
      max: 40,
      interval: 5,
      position: 'left',
      axisLine: { show: false },
      axisTick: { show: false },
      axisLabel: { margin: 17, color: '#000', fontFamily: FONT, fontSize: 10 },
      splitLine: { lineStyle: { color: GRID_COLOR, width: 1 } }
    },
    {
      type: 'value',
      gridIndex: 1,
      min: 0,
      max: 75,
      interval: 5,
      position: 'right',
      axisLine: { show: false },
      axisTick: { show: false },
      axisLabel: { margin: 19, color: '#000', fontFamily: FONT, fontSize: 10 },
      splitLine: { show: false }
    }
  ],
  graphic,
  series
})
</script>
</body>
</html>
